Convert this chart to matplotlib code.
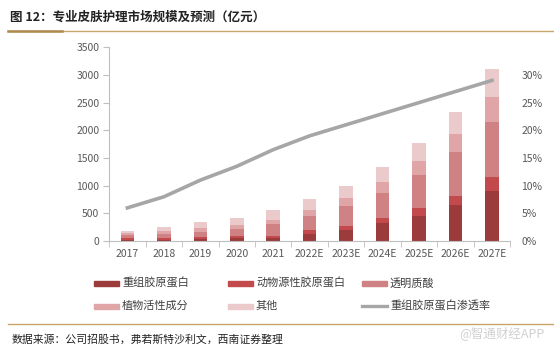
import matplotlib.pyplot as plt
from matplotlib.patches import Rectangle
from matplotlib.lines import Line2D
import numpy as np

plt.rcParams['font.family'] = ['Noto Sans CJK SC', 'DejaVu Sans']

years = ["2017", "2018", "2019", "2020", "2021", "2022E", "2023E",
         "2024E", "2025E", "2026E", "2027E"]
# 亿元
recombinant = [25, 25, 40, 50, 60, 125, 205, 325, 455, 650, 910]
animal = [25, 30, 30, 35, 40, 70, 72, 100, 138, 170, 240]
hyaluronic = [55, 70, 100, 130, 200, 258, 354, 450, 594, 786, 1008]
plant = [40, 50, 60, 70, 90, 114, 155, 198, 252, 324, 450]
other = [45, 85, 110, 125, 170, 186, 215, 270, 324, 400, 492]
penetration = [6.0, 8.0, 11.0, 13.5, 16.5, 19.0, 21.0, 23.0, 25.0, 27.0, 29.0]

series = [recombinant, animal, hyaluronic, plant, other]
names = ["重组胶原蛋白", "动物源性胶原蛋白", "透明质酸", "植物活性成分", "其他"]
colors = ["#9C3B3C", "#C24A4C", "#D08183", "#DFA5A7", "#EBCACB"]
line_name = "重组胶原蛋白渗透率"
line_color = "#A6A6A6"
tick_gray = "#595959"

fig = plt.figure(figsize=(5.54, 3.52), dpi=100)
ax = fig.add_axes([0.197, 0.315, 0.724, 0.551])

x = np.arange(len(years))
bottom = np.zeros(len(years))
for vals, c in zip(series, colors):
    ax.bar(x, vals, width=0.37, bottom=bottom, color=c, zorder=2)
    bottom += np.array(vals)

ax.set_xlim(-0.5, len(years) - 0.5)
ax.set_ylim(0, 3500)
ax.set_yticks(np.arange(0, 3501, 500))
ax.set_xticks(x)
ax.set_xticklabels(years)
ax.set_xticks(np.arange(-0.5, len(years), 1), minor=True)
ax.tick_params(axis='x', which='major', length=0, pad=6, labelsize=7.5, labelcolor=tick_gray)
ax.tick_params(axis='x', which='minor', length=4, color="#BFBFBF")
ax.tick_params(axis='y', length=4, color="#BFBFBF", labelsize=7.5, labelcolor=tick_gray, pad=3)
for s in ['top', 'right']:
    ax.spines[s].set_visible(False)
for s in ['left', 'bottom']:
    ax.spines[s].set_color("#BFBFBF")
    ax.spines[s].set_linewidth(0.8)

ax2 = ax.twinx()
ax2.plot(x, np.array(penetration) / 100, color=line_color, lw=2.6, zorder=3)
ax2.set_ylim(0, 0.35)
ax2.set_yticks(np.arange(0, 0.301, 0.05))
ax2.set_yticklabels([f"{int(round(v * 100))}%" for v in np.arange(0, 0.301, 0.05)])
ax2.tick_params(axis='y', length=0, labelsize=7.5, labelcolor=tick_gray, pad=8)
for s in ['top', 'right', 'left', 'bottom']:
    ax2.spines[s].set_visible(False)

W, H = 554, 352

def fx(px):
    return px / W

def fy(py):
    return 1 - py / H

# title and rules
fig.text(fx(10), fy(17), "图 12：专业皮肤护理市场规模及预测（亿元）", fontsize=9,
         fontweight='bold', va='center', ha='left', color="#222222")
fig.add_artist(Line2D([fx(8), fx(554)], [fy(31), fy(31)], color="#C9A46A", lw=1.0))
fig.add_artist(Line2D([fx(8), fx(62)], [fy(31), fy(31)], color="#B08850", lw=1.8))
fig.add_artist(Line2D([fx(8), fx(554)], [fy(324), fy(324)], color="#C9A46A", lw=1.0))

# legend
slots = [(94, 283), (228, 283), (362, 283), (94, 306), (228, 306), (362, 306)]
for i, (px, py) in enumerate(slots):
    if i < len(names):
        fig.add_artist(Rectangle((fx(px), fy(py + 2.5)), fx(25), 5 / H,
                                 color=colors[i], transform=fig.transFigure))
        label = names[i]
    else:
        fig.add_artist(Line2D([fx(px), fx(px + 25)], [fy(py), fy(py)],
                              color=line_color, lw=2.4))
        label = line_name
    fig.text(fx(px + 28), fy(py), label, fontsize=8, va='center', ha='left',
             color="#404040")

# source
fig.text(fx(12), fy(340), "数据来源：公司招股书，弗若斯特沙利文，西南证券整理", fontsize=7.8,
         va='center', ha='left', color="#222222", style='italic')
fig.text(fx(545), fy(333), "@智通财经APP", fontsize=9, va='center', ha='right',
         color="#D0D0D0")

fig.savefig("out.png", dpi=100)
